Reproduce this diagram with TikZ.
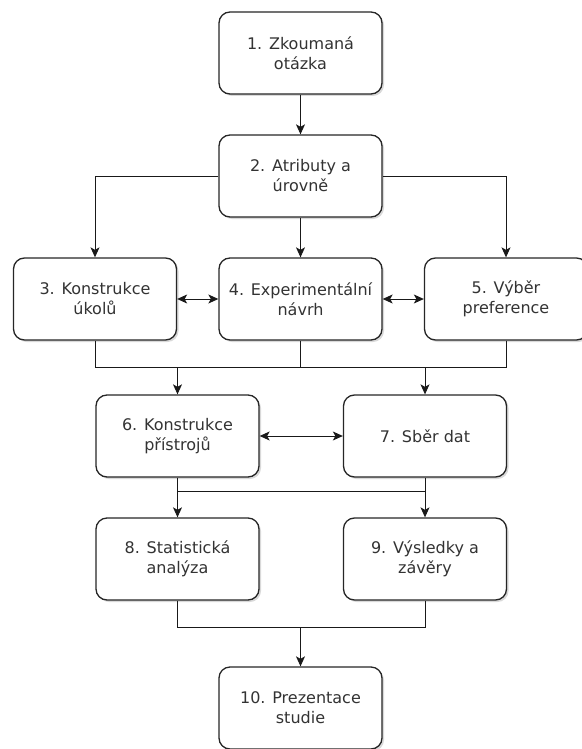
\documentclass[tikz,border=0pt]{standalone}
\usepackage{fontspec}
\setmainfont{DejaVu Sans}
\usetikzlibrary{arrows.meta,shadows}
\begin{document}
\begin{tikzpicture}[x=1pt,y=-1pt,
 box/.style={draw=black!85, line width=1.3pt, rounded corners=11pt, fill=white,
   minimum width=163pt, minimum height=82pt, align=center,
   font=\fontsize{16}{20}\selectfont, text=black!80,
   drop shadow={shadow xshift=2pt, shadow yshift=-2pt, opacity=0.3, fill=black!50}},
 conn/.style={line width=1pt, draw=black!90},
 arr/.style={conn, -{Stealth[length=10pt,width=9pt,inset=2.5pt]}},
 barr/.style={conn, {Stealth[length=10pt,width=9pt,inset=2.5pt]}-{Stealth[length=10pt,width=9pt,inset=2.5pt]}}]
\useasboundingbox (0,0) rectangle (581,749);
\node[box] (n1) at (300.5,53) {1. Zkoumaná\\otázka};
\node[box] (n2) at (300.5,176) {2. Atributy a\\úrovně};
\node[box] (n3) at (95,299) {3. Konstrukce\\úkolů};
\node[box] (n4) at (300.5,299) {4. Experimentální\\návrh};
\node[box] (n5) at (506,299) {5. Výběr\\preference};
\node[box] (n6) at (177.5,436) {6. Konstrukce\\přístrojů};
\node[box] (n7) at (425,436) {7. Sběr dat};
\node[box] (n8) at (177.5,559) {8. Statistická\\analýza};
\node[box] (n9) at (425,559) {9. Výsledky a\\závěry};
\node[box] (n10) at (300.5,708) {10. Prezentace\\studie};
\coordinate (m1) at (300.5,367);
\coordinate (m2) at (300.5,491);
\coordinate (m3) at (300.5,627);
\draw[arr] (n1) -- (n2);
\draw[arr] (n2.west) -| (n3.north);
\draw[arr] (n2) -- (n4);
\draw[arr] (n2.east) -| (n5.north);
\draw[barr] (n3) -- (n4);
\draw[barr] (n4) -- (n5);
\draw[arr] (n3.south) |- (n7.north |- m1) -- (n7.north);
\draw[arr] (n5.south) |- (n6.north |- m1) -- (n6.north);
\draw[conn] (n4.south) -- (m1);
\draw[barr] (n6) -- (n7);
\draw[arr] (n6.south) |- (n9.north |- m2) -- (n9.north);
\draw[arr] (n7.south) |- (n8.north |- m2) -- (n8.north);
\draw[arr] (n8.south) |- (m3) -- (n10.north);
\draw[conn] (n9.south) |- (m3);
\end{tikzpicture}
\end{document}
